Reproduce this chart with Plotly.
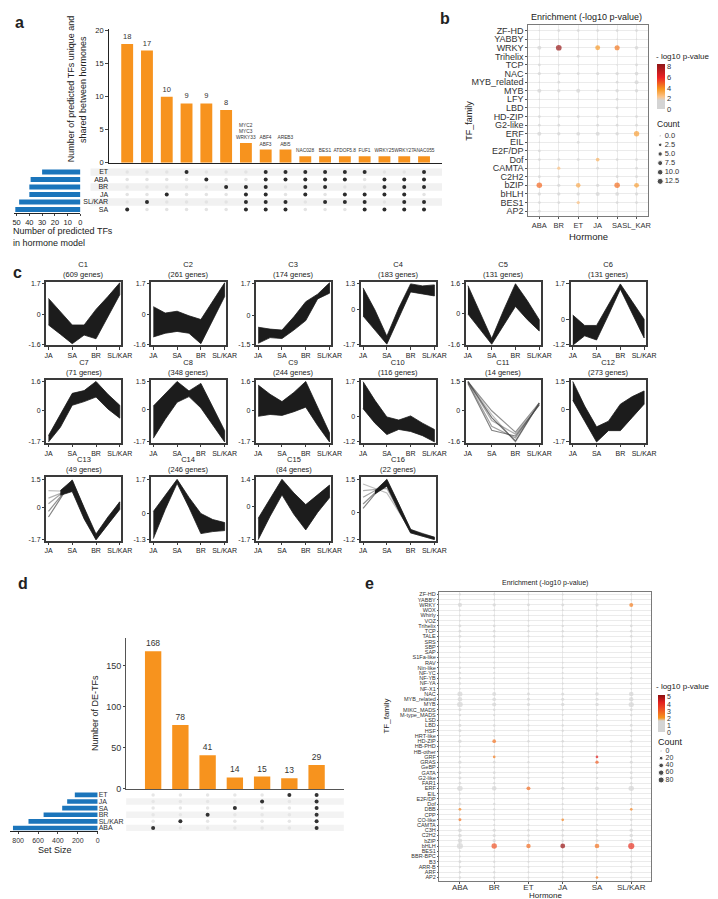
import plotly.graph_objects as go

W, H = 718, 899
FONT = "Liberation Sans, Arial, sans-serif"
ORANGE = "#f7931e"
BLUE = "#1b75bb"

# ---------------- panel a : upset of predicted TFs
a_sets = ["ET", "ABA", "BR", "JA", "SL/KAR", "SA"]
a_set_size = [30, 39, 40, 40, 48, 51]
a_counts = [18, 17, 10, 9, 9, 8, 3, 2, 2, 1, 1, 1, 1, 1, 1, 1]
a_genes = ["", "", "", "", "", "", "MYC2<br>MYC3<br>WRKY33", "ABF4<br>ABF3", "AREB3<br>ABI5",
           "NAC028", "BES1", "ATDOF5.8", "FUF1", "WRKY25", "WRKY27", "ANAC055"]
a_members = [["SA"], ["SL/KAR"], ["JA"], ["ET"], ["ABA"], ["BR"],
             ["BR", "JA", "SL/KAR", "SA"],
             ["ET", "ABA", "BR", "JA", "SL/KAR", "SA"],
             ["ET", "ABA", "SL/KAR", "SA"],
             ["ET", "ABA", "BR", "JA"],
             ["ET", "ABA", "BR", "SL/KAR"],
             ["ET", "ABA", "JA", "SL/KAR"],
             ["ET", "JA", "SL/KAR", "SA"],
             ["ABA", "BR", "JA", "SA"],
             ["ABA", "BR", "JA", "SL/KAR", "SA"],
             ["ET", "ABA", "BR", "SL/KAR", "SA"]]
a_band_rows = ["ET", "BR", "SL/KAR"]

# ---------------- panel b : enrichment dot plot
b_hormones = ["ABA", "BR", "ET", "JA", "SA", "SL_KAR"]
b_families = ["ZF-HD", "YABBY", "WRKY", "Trihelix", "TCP", "NAC", "MYB_related", "MYB", "LFY",
              "LBD", "HD-ZIP", "G2-like", "ERF", "EIL", "E2F/DP", "Dof", "CAMTA", "C2H2",
              "bZIP", "bHLH", "BES1", "AP2"]
b_count = [[0, 1, 1, 1, 1, 1], [0, 0, 0, 0, 0, 0], [4, 11, 0, 7, 8, 3], [0, 0, 1, 0, 0, 0],
           [1, 0, 0, 0, 0, 1], [2, 2, 1, 2, 2, 3], [0, 1, 0, 0, 1, 4], [4, 2, 4, 1, 2, 2],
           [0, 0, 0, 0, 1, 0], [0, 0, 0, 0, 1, 0], [1, 1, 1, 1, 1, 1], [1, 1, 0, 1, 1, 1],
           [4, 2, 3, 4, 2, 9], [0, 0, 1, 0, 0, 0], [1, 0, 0, 0, 0, 0], [1, 1, 1, 3, 1, 1],
           [0, 2, 0, 1, 0, 1], [1, 1, 0, 0, 1, 1], [10, 2, 6, 2, 10, 7], [2, 2, 2, 4, 3, 2],
           [1, 1, 2, 0, 1, 1], [1, 0, 0, 0, 0, 0]]
Z = [0, 0, 0, 0, 0, 0]
b_logp = [Z, Z, [0, 8.1, 0, 3.6, 4.3, 0], Z, Z, Z, Z, Z, Z, Z, Z, Z,
          [0, 0, 0, 0, 0, 3.4], Z, Z, [0, 0, 0, 2.8, 0, 0], [0, 2.4, 0, 0, 0, 0], Z,
          [4.6, 0, 3.1, 0, 4.5, 3.4], Z, [0, 0, 2.4, 0, 0, 0], Z]
b_legend = [0.0, 2.5, 5.0, 7.5, 10.0, 12.5]

# ---------------- panel c : expression clusters
c_stages = ["JA", "SA", "BR", "SL/KAR"]
c_pos = [0, 0.5, 1, 1.5, 2, 2.5, 3]
c_genes = [609, 261, 174, 183, 131, 131, 71, 348, 244, 116, 14, 273, 49, 246, 84, 22]
c_top = [1.7, 1.7, 1.7, 1.3, 1.6, 1.7, 1.6, 1.5, 1.6, 1.7, 1.5, 1.5, 1.5, 1.7, 1.4, 1.5]
c_bottom = [-1.6, -1.6, -1.5, -1.7, -1.6, -1.2, -1.7, -1.7, -1.7, -1.2, -1.6, -1.7, -1.7, -1.3, -1.7, -1.2]
c_upper = [
    [0.9, 0.2, -0.55, -0.55, 0.3, 1.0, 1.75],
    [0.45, 0.1, 0.2, -0.05, -0.25, 0.75, 1.75],
    [-0.6, -0.7, -0.75, -0.05, 0.75, 1.15, 1.75],
    [1.1, 0.0, -1.3, 0.1, 1.3, 1.2, 1.25],
    [1.5, 0.1, -1.3, 0.2, 1.6, 0.7, -0.3],
    [0.2, -0.3, -0.3, 0.7, 1.7, 0.85, 0.0],
    [-1.35, -0.2, 0.95, 1.1, 1.6, 0.9, 0.3],
    [0.2, 0.85, 1.5, 1.0, 1.4, 0.15, -1.1],
    [1.4, 0.9, 0.5, 1.0, 1.6, 0.2, -1.2],
    [1.7, 0.8, 0.0, -0.15, 0.05, -0.3, -0.6],
    [None] * 7,
    [1.5, 0.2, -0.9, -0.6, 0.3, 0.7, 1.0],
    [None, 0.9, 1.45, 0.0, -1.4, -0.5, 0.3],
    [0.1, 0.9, 1.7, 0.8, 0.0, -0.3, -0.45],
    [-0.6, 0.4, 1.4, 0.7, 0.1, 0.6, 1.1],
    [None, 1.0, 1.5, 0.4, -0.75, -0.95, -1.1]]
c_lower = [
    [-0.55, -1.05, -1.57, -1.1, -1.3, -0.1, 1.1],
    [-1.2, -1.0, -0.9, -1.0, -1.57, -0.3, 1.0],
    [-1.45, -1.15, -1.2, -0.75, -0.25, 0.9, 1.2],
    [-0.3, -1.0, -1.7, -0.4, 0.9, 0.8, 0.7],
    [0.0, -0.8, -1.6, -0.6, 0.4, -0.3, -0.9],
    [-1.25, -0.8, -1.0, 0.2, 1.45, 0.3, -0.9],
    [-1.7, -0.9, 0.3, 0.5, 0.75, 0.1, -0.4],
    [-1.5, -0.5, 0.4, 0.7, 0.1, -0.8, -1.7],
    [-0.3, -0.2, -0.25, -0.05, 0.2, -0.8, -1.7],
    [0.4, -0.3, -0.85, -0.6, -0.7, -0.9, -1.2],
    [None] * 7,
    [0.5, -0.6, -1.7, -1.1, -1.1, -0.4, 0.3],
    [None, 0.65, 0.85, -0.6, -1.7, -0.9, -0.1],
    [-1.25, 0.2, 1.5, 0.3, -1.0, -0.9, -0.85],
    [-1.7, -0.5, 0.6, -0.4, -1.2, -0.3, 0.45],
    [None, 0.85, 1.2, 0.1, -0.9, -1.05, -1.2]]
# lighter single profiles (JA, SA, BR, SL/KAR)
c_light = {
    10: [[1.5, -0.2, -1.6, 0.4], [1.5, -0.5, -1.2, 0.3], [1.45, -0.8, -1.4, 0.35],
         [1.5, 0.0, -1.1, 0.4], [1.4, -1.0, -1.3, 0.3], [1.5, -0.35, -1.55, 0.4]],
    12: [[0.9, 0.85, -1.5, 0.1], [0.5, 1.0, -1.6, 0.2], [0.2, 1.2, -1.65, 0.2],
         [-0.2, 1.35, -1.7, 0.0], [-0.5, 1.45, -1.6, 0.3]],
    15: [[1.3, 0.9, -0.8, -1.1], [1.0, 1.1, -0.85, -1.15], [0.7, 1.3, -0.9, -1.2],
         [0.4, 1.4, -0.8, -1.15], [0.2, 1.5, -0.75, -1.1]],
}

# ---------------- panel d : upset of DE-TFs
d_sets = ["ET", "JA", "SA", "BR", "SL/KAR", "ABA"]
d_set_size = [230, 307, 357, 544, 696, 852]
d_counts = [168, 78, 41, 14, 15, 13, 29]
d_members = [["ABA"], ["SL/KAR"], ["BR"], ["SA"], ["JA"], ["ET"],
             ["ET", "JA", "SA", "BR", "SL/KAR", "ABA"]]
d_band_rows = ["JA", "BR", "ABA"]

# ---------------- panel e : enrichment of DE-TFs
e_hormones = ["ABA", "BR", "ET", "JA", "SA", "SL/KAR"]
e_families = ["ZF-HD", "YABBY", "WRKY", "WOX", "Whirly", "VOZ", "Trihelix", "TCP", "TALE", "SRS",
              "SBP", "SAP", "S1Fa-like", "RAV", "Nin-like", "NF-YC", "NF-YB", "NF-YA", "NF-X1",
              "NAC", "MYB_related", "MYB", "MIKC_MADS", "M-type_MADS", "LSD", "LBD", "HSF",
              "HRT-like", "HD-ZIP", "HB-PHD", "HB-other", "GRF", "GRAS", "GeBP", "GATA",
              "G2-like", "FAR1", "ERF", "EIL", "E2F/DP", "Dof", "DBB", "CPP", "CO-like", "CAMTA",
              "C3H", "C2H2", "bZIP", "bHLH", "BES1", "BBR-BPC", "B3", "ARR-B", "ARF", "AP2"]
e_count = [[3, 3, 2, 2, 2, 3], [1, 1, 0, 1, 1, 1], [30, 15, 8, 10, 12, 25], [2, 2, 1, 1, 1, 2],
           [1, 1, 0, 1, 0, 1], [1, 1, 1, 1, 1, 1], [8, 6, 3, 4, 4, 6], [8, 6, 4, 4, 4, 6],
           [8, 6, 3, 4, 4, 6], [2, 2, 1, 1, 1, 2], [6, 4, 2, 3, 3, 5], [1, 1, 0, 0, 1, 1],
           [1, 1, 0, 0, 0, 1], [2, 2, 1, 1, 1, 2], [5, 4, 2, 3, 2, 4], [5, 3, 2, 2, 2, 4],
           [5, 3, 2, 2, 2, 4], [5, 3, 2, 2, 2, 4], [1, 1, 1, 1, 1, 1], [50, 25, 10, 12, 18, 40],
           [40, 20, 10, 12, 12, 35], [65, 30, 12, 15, 15, 55], [10, 5, 3, 3, 3, 8],
           [6, 4, 2, 2, 2, 5], [2, 1, 1, 1, 1, 1], [10, 6, 3, 4, 4, 8], [10, 6, 3, 4, 4, 8],
           [1, 1, 0, 0, 0, 1], [15, 20, 5, 6, 6, 12], [1, 1, 0, 1, 1, 1], [2, 1, 1, 1, 1, 2],
           [3, 7, 1, 2, 6, 3], [12, 8, 4, 5, 14, 10], [2, 2, 1, 1, 1, 2], [10, 6, 3, 3, 4, 8],
           [10, 6, 3, 4, 4, 8], [6, 4, 2, 2, 2, 5], [60, 40, 25, 15, 20, 60], [2, 1, 1, 1, 1, 1],
           [2, 1, 1, 1, 1, 1], [10, 5, 3, 3, 3, 8], [8, 4, 2, 2, 2, 7], [3, 2, 1, 1, 1, 2],
           [10, 4, 2, 7, 2, 6], [4, 3, 2, 2, 2, 3], [20, 12, 6, 6, 6, 15], [20, 12, 6, 6, 6, 18],
           [35, 15, 8, 8, 10, 25], [80, 60, 35, 45, 40, 85], [2, 2, 1, 1, 1, 2],
           [2, 1, 1, 1, 1, 2], [8, 4, 3, 3, 3, 6], [5, 3, 2, 2, 2, 4], [6, 4, 2, 3, 3, 5],
           [6, 4, 2, 3, 6, 5]]
e_logp = [Z] * 55
e_logp[2] = [0, 0, 0, 0, 0, 2.4]        # WRKY
e_logp[28] = [0, 2.6, 0, 0, 0, 0]       # HD-ZIP
e_logp[31] = [0, 2.4, 0, 0, 4.2, 0]     # GRF
e_logp[32] = [0, 0, 0, 0, 3.0, 0]       # GRAS
e_logp[37] = [0, 0, 2.7, 0, 0, 0]       # ERF
e_logp[41] = [2.3, 0, 0, 0, 0, 2.3]     # DBB
e_logp[43] = [2.6, 0, 0, 2.3, 0, 0]     # CO-like
e_logp[48] = [0, 3.2, 2.7, 5.1, 2.6, 3.9]  # bHLH
e_logp[54] = [0, 0, 0, 0, 2.4, 0]       # AP2
e_legend = [0, 20, 40, 60, 80]

b_scale = [[0, "#d4d4d4"], [0.19, "#d4d4d4"], [0.27, "#fcc48a"], [0.45, "#f7941d"],
           [0.7, "#ec2224"], [1, "#8e1616"]]
e_scale = [[0, "#d4d4d4"], [0.3, "#d4d4d4"], [0.38, "#f7941d"], [0.6, "#f05323"],
           [0.8, "#e3201e"], [1, "#8b0f0f"]]


def b_size(c):
    return 1.5 + 4.5 * (c / 12.5) ** 0.5


def e_size(c):
    return 1.3 + 4.9 * (c / 85) ** 0.5


def dx(l, r):
    return [l / W, r / W]


def dy(t, b):
    return [1 - b / H, 1 - t / H]


def names(n):
    s = "" if n == 1 else str(n)
    return "x" + s, "y" + s, "xaxis" + s, "yaxis" + s


HIDE = dict(showgrid=False, zeroline=False, showticklabels=False, ticks="", showline=False)

fig = go.Figure()
lay = {}
shapes = []
annotations = []


def note(x, y, txt, size=9, xanchor="center", yanchor="middle", angle=0, bold=False):
    if bold:
        txt = "<b>" + txt + "</b>"
    annotations.append(dict(x=x / W, y=1 - y / H, xref="paper", yref="paper", text=txt,
                            showarrow=False, font=dict(size=size, color="#222"),
                            xanchor=xanchor, yanchor=yanchor, textangle=angle, borderpad=0))


def cat(values):
    # category axis showing every label
    return dict(type="category", categoryarray=values, tickmode="array", tickvals=values,
                ticktext=values)


def upset_matrix(n, sets, members, dark, light, dsize, lsize):
    xa, ya = names(n)[:2]
    lx, ly, kx, ky = [], [], [], []
    for i, m in enumerate(members):
        for s in sets:
            if s in m:
                kx.append(i); ky.append(s)
            else:
                lx.append(i); ly.append(s)
    fig.add_trace(go.Scatter(x=lx, y=ly, mode="markers", marker=dict(color=light, size=lsize),
                             xaxis=xa, yaxis=ya, hoverinfo="skip"))
    fig.add_trace(go.Scatter(x=kx, y=ky, mode="markers", marker=dict(color=dark, size=dsize),
                             xaxis=xa, yaxis=ya, hoverinfo="skip"))


# ======== panel a
xa, ya, XA, YA = names(1)
lay[XA] = dict(domain=dx(101, 440), range=[-0.91, 15.91], anchor=ya, showline=True,
               linecolor="#222", linewidth=1, showgrid=False, zeroline=False,
               showticklabels=False, ticks="")
lay[YA] = dict(domain=dy(19, 154), range=[0, 20.3], anchor=xa, showline=True, linecolor="#222",
               linewidth=1, tickvals=[0, 5, 10, 15, 20], ticks="outside", ticklen=3,
               tickfont=dict(size=7.5), showgrid=False, zeroline=False)
a_text = [str(c) if i < 6 else a_genes[i] for i, c in enumerate(a_counts)]
fig.add_trace(go.Bar(x=list(range(len(a_counts))), y=a_counts, width=0.6,
                     marker=dict(color=ORANGE, line=dict(width=0)), text=a_text,
                     textposition="outside", textangle=0, constraintext="none", cliponaxis=False,
                     textfont=dict(size=[7.5 if i < 6 else 4.8 for i in range(len(a_counts))],
                                   color="#333"),
                     xaxis=xa, yaxis=ya, hoverinfo="skip"))
note(63, 80, "Number of predicted TFs unique and", size=9, angle=-90)
note(75, 80, "shared between hormones", size=9, angle=-90)

sets_rev = a_sets[::-1]
xa, ya, XA, YA = names(2)
lay[XA] = dict(domain=dx(101, 440), range=[-0.91, 15.91], anchor=ya, **HIDE)
lay[YA] = dict(domain=dy(159.5, 204.8), range=[-0.5, 5.5], anchor=xa, showgrid=False,
               zeroline=False, showline=False, ticks="", tickfont=dict(size=7), **cat(sets_rev))
for s in a_band_rows:
    k = sets_rev.index(s)
    shapes.append(dict(type="rect", xref="x2 domain", yref="y2", x0=-0.056, x1=1,
                       y0=k - 0.5, y1=k + 0.5, fillcolor="#f1f1f1", line=dict(width=0),
                       layer="below"))
upset_matrix(2, a_sets, a_members, "#2b2b2b", "#e3e3e3", 4, 3.5)

xa, ya, XA, YA = names(3)
lay[XA] = dict(domain=dx(4.1, 71.7), range=[52, 0], anchor=ya, showline=True, linecolor="#222",
               linewidth=1, tickvals=[50, 40, 30, 20, 10, 0], ticks="outside", ticklen=2,
               tickfont=dict(size=7.5), showgrid=False, zeroline=False)
lay[YA] = dict(domain=dy(159.5, 204.8), type="category", categoryarray=sets_rev,
               range=[-0.5, 5.5], anchor=xa, **HIDE)
fig.add_trace(go.Bar(x=a_set_size, y=a_sets, orientation="h", width=0.65,
                     marker=dict(color=BLUE, line=dict(width=0)), xaxis=xa, yaxis=ya,
                     hoverinfo="skip"))
note(2, 223, "Number of predicted TFs", size=9, xanchor="left")
note(2, 234.5, "in hormone model", size=9, xanchor="left")

# ======== panel b
xa, ya, XA, YA = names(4)
GRID = dict(showgrid=True, gridcolor="#ebebeb", gridwidth=0.8, zeroline=False, showline=True,
            mirror=True, linecolor="#7a7a7a", linewidth=1, ticks="outside", tickcolor="#555")
lay[XA] = dict(domain=dx(528, 650), range=[-0.56, 5.6], anchor=ya, ticklen=2, tickangle=0,
               tickfont=dict(size=7.5, color="#333"), **GRID, **cat(b_hormones))
lay[YA] = dict(domain=dy(15, 207.3), range=[-0.53, 21.66], anchor=xa, ticklen=2,
               tickfont=dict(size=9, color="#333"), **GRID, **cat(b_families[::-1]))
bx, by, bs, bc = [], [], [], []
for f, cnt, lp in zip(b_families, b_count, b_logp):
    for h, c, p in zip(b_hormones, cnt, lp):
        bx.append(h); by.append(f); bs.append(b_size(c)); bc.append(p)
fig.add_trace(go.Scatter(x=bx, y=by, mode="markers",
                         marker=dict(size=bs, color=bc, coloraxis="coloraxis", line=dict(width=0)),
                         xaxis=xa, yaxis=ya, hoverinfo="skip"))
note(587, 7.5, "Enrichment (-log10 p-value)", size=9)
note(589, 228, "Hormone", size=9.5)
note(468, 112, "TF_family", size=9, angle=-90)
note(657, 47, "- log10 p-value", size=8, xanchor="left")
note(658, 115, "Count", size=8.5, xanchor="left")

xa, ya, XA, YA = names(25)
lay[XA] = dict(domain=dx(658, 700), range=[-0.11, 1], anchor=ya, **HIDE)
lay[YA] = dict(domain=dy(122, 177.4), range=[13.78, -1.28], anchor=xa, **HIDE)
fig.add_trace(go.Scatter(x=[0] * len(b_legend), y=b_legend, mode="markers",
                         marker=dict(size=[b_size(v) for v in b_legend], color="black"),
                         xaxis=xa, yaxis=ya, hoverinfo="skip"))
fig.add_trace(go.Scatter(x=[0.12] * len(b_legend), y=b_legend, mode="text",
                         text=[f"{v:.1f}" for v in b_legend], textposition="middle right",
                         textfont=dict(size=7.5, color="#333"), xaxis=xa, yaxis=ya,
                         hoverinfo="skip"))

# ======== panel c
for k in range(16):
    n = 6 + k
    xa, ya, XA, YA = names(n)
    col, row = k % 6, k // 6
    l = 37 + col * 106.8
    t = 274 + row * 98.5
    lo, hi = c_bottom[k], c_top[k]
    LINE = dict(showline=True, mirror=True, linecolor="#3a3a3a", linewidth=1.5, showgrid=False,
                zeroline=False, ticks="outside", ticklen=2.5, tickwidth=1, tickcolor="#3a3a3a",
                tickfont=dict(size=7, color="#222"))
    lay[XA] = dict(domain=dx(l, l + 76.5), range=[-0.09, 3.07], anchor=ya,
                   tickvals=[0, 1, 2, 3], ticktext=c_stages, tickangle=0, **LINE)
    lay[YA] = dict(domain=dy(t, t + 64), range=[lo - 0.06, hi + 0.1], anchor=xa,
                   tickvals=[lo, 0, hi], ticktext=[f"{lo:g}", "0", f"{hi:g}"], **LINE)
    for j, prof in enumerate(c_light.get(k, [])):
        fig.add_trace(go.Scatter(x=[0, 1, 2, 3], y=prof, mode="lines",
                                 line=dict(color="rgba(70,70,70,%.2f)" % (0.35 + 0.08 * j),
                                           width=1.2),
                                 xaxis=xa, yaxis=ya, hoverinfo="skip"))
    pts = [(p, u, d) for p, u, d in zip(c_pos, c_upper[k], c_lower[k]) if u is not None]
    if pts:
        xs = [p[0] for p in pts]
        us = [p[1] for p in pts]
        ds = [p[2] for p in pts]
        fig.add_trace(go.Scatter(x=xs + xs[::-1], y=us + ds[::-1], mode="lines", fill="toself",
                                 fillcolor="#1c1c1c", line=dict(color="#1c1c1c", width=0.8),
                                 xaxis=xa, yaxis=ya, hoverinfo="skip"))
    annotations.append(dict(x=0.5, y=1, xref=xa + " domain", yref=ya + " domain",
                            text=f"C{k + 1}<br>({c_genes[k]} genes)", showarrow=False,
                            yanchor="bottom", yshift=1, font=dict(size=7.5, color="#222")))

# ======== panel d
xa, ya, XA, YA = names(22)
lay[XA] = dict(domain=dx(118.3, 340), range=[-0.99, 7.0], anchor=ya, showline=True,
               linecolor="#555", linewidth=1, showgrid=False, zeroline=False,
               showticklabels=False, ticks="")
lay[YA] = dict(domain=dy(633, 785), range=[0, 184], anchor=xa, showline=True, linecolor="#555",
               linewidth=1, tickvals=[0, 50, 100, 150], ticks="outside", ticklen=2,
               tickfont=dict(size=9, color="#333"), showgrid=False, zeroline=False)
fig.add_trace(go.Bar(x=list(range(len(d_counts))), y=d_counts, width=0.6,
                     marker=dict(color=ORANGE, line=dict(width=0)),
                     text=[str(c) for c in d_counts], textposition="outside", textangle=0,
                     constraintext="none", cliponaxis=False,
                     textfont=dict(size=8.5, color="#333"), xaxis=xa, yaxis=ya,
                     hoverinfo="skip"))
note(87, 708, "Number of DE-TFs", size=9, angle=-90)

dsets_rev = d_sets[::-1]
xa, ya, XA, YA = names(23)
lay[XA] = dict(domain=dx(118.3, 340), range=[-0.99, 7.0], anchor=ya, **HIDE)
lay[YA] = dict(domain=dy(787.7, 827.7), type="category", categoryarray=dsets_rev,
               range=[-0.5, 5.5], anchor=xa, **HIDE)
for s in d_band_rows:
    k = dsets_rev.index(s)
    shapes.append(dict(type="rect", xref="x23 domain", yref="y23", x0=0, x1=1,
                       y0=k - 0.5, y1=k + 0.5, fillcolor="#f3f3f3", line=dict(width=0),
                       layer="below"))
upset_matrix(23, d_sets, d_members, "#333333", "#e6e6e6", 4, 3.5)

xa, ya, XA, YA = names(24)
lay[XA] = dict(domain=dx(0.2, 89.3), range=[880, 0], anchor=ya, showline=True, linecolor="#222",
               linewidth=1, tickvals=[800, 600, 400, 200, 0], ticks="outside", ticklen=2,
               tickfont=dict(size=7, color="#333"), showgrid=False, zeroline=False)
lay[YA] = dict(domain=dy(787.7, 827.7), range=[-0.5, 5.5], anchor=xa, side="right",
               showgrid=False, zeroline=False, showline=False, ticks="",
               tickfont=dict(size=7, color="#333"), **cat(dsets_rev))
fig.add_trace(go.Bar(x=d_set_size, y=d_sets, orientation="h", width=0.7,
                     marker=dict(color=BLUE, line=dict(width=0)), xaxis=xa, yaxis=ya,
                     hoverinfo="skip"))
note(46, 847, "Set Size", size=9)

# ======== panel e
xa, ya, XA, YA = names(5)
lay[XA] = dict(domain=dx(437.3, 653.3), range=[-0.6, 5.59], anchor=ya, ticklen=2, tickangle=0,
               ticklabelstandoff=-4, tickfont=dict(size=8, color="#333"), **GRID,
               **cat(e_hormones))
lay[YA] = dict(domain=dy(586.7, 878.3), range=[-0.76, 54.44], anchor=xa, ticklen=1.5,
               tickfont=dict(size=5.5, color="#333"), **GRID, **cat(e_families[::-1]))
ex, ey, es, ec = [], [], [], []
for f, cnt, lp in zip(e_families, e_count, e_logp):
    for h, c, p in zip(e_hormones, cnt, lp):
        ex.append(h); ey.append(f); es.append(e_size(c)); ec.append(p)
fig.add_trace(go.Scatter(x=ex, y=ey, mode="markers",
                         marker=dict(size=es, color=ec, coloraxis="coloraxis2", line=dict(width=0)),
                         xaxis=xa, yaxis=ya, hoverinfo="skip"))
note(545, 578, "Enrichment (-log10 p-value)", size=7)
note(545, 892.5, "Hormone", size=8)
note(383, 712, "TF_family", size=8, angle=-90)
note(657, 682, "- log10 p-value", size=8, xanchor="left")
note(659, 738, "Count", size=9, xanchor="left")

xa, ya, XA, YA = names(26)
lay[XA] = dict(domain=dx(658, 700), range=[-0.14, 1], anchor=ya, **HIDE)
lay[YA] = dict(domain=dy(743, 780), range=[90.9, -10.1], anchor=xa, **HIDE)
fig.add_trace(go.Scatter(x=[0] * len(e_legend), y=e_legend, mode="markers",
                         marker=dict(size=[e_size(v) for v in e_legend], color="black"),
                         xaxis=xa, yaxis=ya, hoverinfo="skip"))
fig.add_trace(go.Scatter(x=[0.12] * len(e_legend), y=e_legend, mode="text",
                         text=[str(v) for v in e_legend], textposition="middle right",
                         textfont=dict(size=7, color="#333"), xaxis=xa, yaxis=ya,
                         hoverinfo="skip"))

# panel letters
note(10, 13, "a", size=16, bold=True)
note(443, 9, "b", size=16, bold=True)
note(8, 265, "c", size=16, bold=True)
note(13, 578, "d", size=16, bold=True)
note(366, 578, "e", size=16, bold=True)

fig.update_layout(
    width=W, height=H, margin=dict(l=0, r=0, t=0, b=0),
    paper_bgcolor="white", plot_bgcolor="white", showlegend=False,
    font=dict(family=FONT, size=8, color="#222"),
    coloraxis=dict(cmin=0, cmax=8.4, colorscale=b_scale,
                   colorbar=dict(x=659 / W, xanchor="left", y=1 - 77.5 / H, yanchor="middle",
                                 len=45, lenmode="pixels", thickness=8, thicknessmode="pixels",
                                 tickvals=[0, 2, 4, 6, 8], ticks="", outlinewidth=0,
                                 xpad=0, ypad=0, tickfont=dict(size=7.5, color="#333"))),
    coloraxis2=dict(cmin=0, cmax=5.25, colorscale=e_scale,
                    colorbar=dict(x=660 / W, xanchor="left", y=1 - 709.3 / H, yanchor="middle",
                                  len=36.7, lenmode="pixels", thickness=7, thicknessmode="pixels",
                                  tickvals=[0, 1, 2, 3, 4, 5], ticks="", outlinewidth=0,
                                  xpad=0, ypad=0, tickfont=dict(size=7, color="#333"))),
    shapes=shapes, annotations=annotations, **lay)

fig.write_html("out.html")
